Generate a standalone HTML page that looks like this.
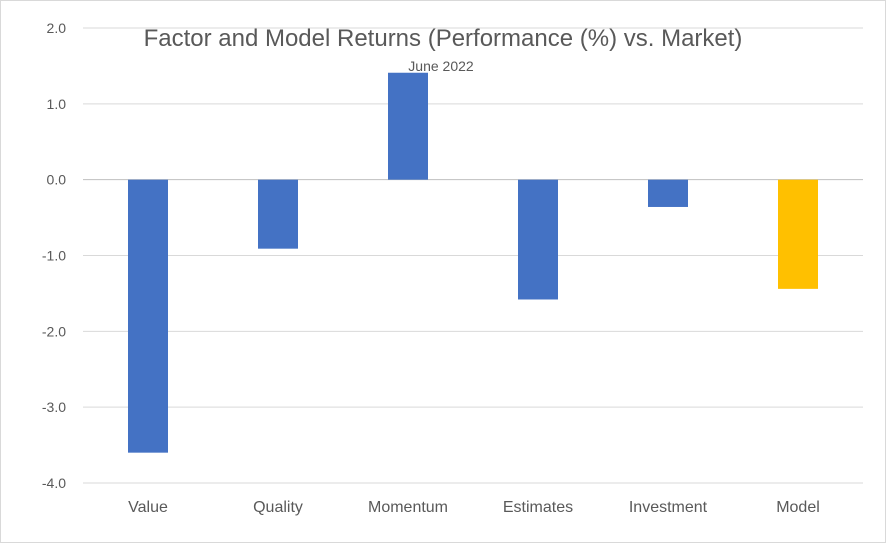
<!DOCTYPE html>
<html><head><meta charset="utf-8"><style>
body{margin:0;background:#fff}
svg{display:block;font-family:"Liberation Sans",sans-serif}
</style></head><body>
<svg width="886" height="543">
<rect x="0.5" y="0.5" width="885" height="542" fill="#fff" stroke="#d9d9d9"/>
<g id="grid"></g><g id="bars"></g><g id="labels"></g>
<text x="443" y="46" text-anchor="middle" font-size="24" fill="#595959">Factor and Model Returns (Performance (%) vs. Market)</text>
<text x="441" y="71" text-anchor="middle" font-size="14" fill="#595959">June 2022</text>
</svg>
<script>
const categories=["Value","Quality","Momentum","Estimates","Investment","Model"];
const values=[-3.6,-0.91,1.41,-1.58,-0.36,-1.44];
const colors=["#4472c4","#4472c4","#4472c4","#4472c4","#4472c4","#ffc000"];
const ticks=[2,1,0,-1,-2,-3,-4];
const ns="http://www.w3.org/2000/svg";
const x0=83,x1=863,yTop=28,yBot=483,vMax=2,vMin=-4;
const y=v=>yTop+(vMax-v)/(vMax-vMin)*(yBot-yTop);
const band=(x1-x0)/categories.length;
const xc=i=>x0+band*(i+0.5);
const G=document.getElementById('grid'),B=document.getElementById('bars'),L=document.getElementById('labels');
function mk(t,a){const e=document.createElementNS(ns,t);for(const k in a)e.setAttribute(k,a[k]);return e;}
ticks.forEach(t=>{
 const l=mk('line',{x1:x0,x2:x1,y1:y(t),y2:y(t),stroke:t===0?'#bfbfbf':'#d9d9d9','stroke-width':1});
 
 
 G.appendChild(l);
 const tx=mk('text',{x:66,y:y(t)+5,'text-anchor':'end','font-size':14,fill:'#595959'});
 tx.textContent=t.toFixed(1);
 
 
 L.appendChild(tx);
});
categories.forEach((c,i)=>{
 const v=values[i],w=40;
 const r=mk('rect',{x:xc(i)-w/2,y:Math.min(y(v),y(0)),width:w,height:Math.abs(y(v)-y(0)),fill:colors[i]});
 
 
 B.appendChild(r);
 const tx=mk('text',{x:xc(i),y:512,'text-anchor':'middle','font-size':16,fill:'#595959'});
 tx.textContent=c;
 
 
 L.appendChild(tx);
});
</script>
</body></html>
